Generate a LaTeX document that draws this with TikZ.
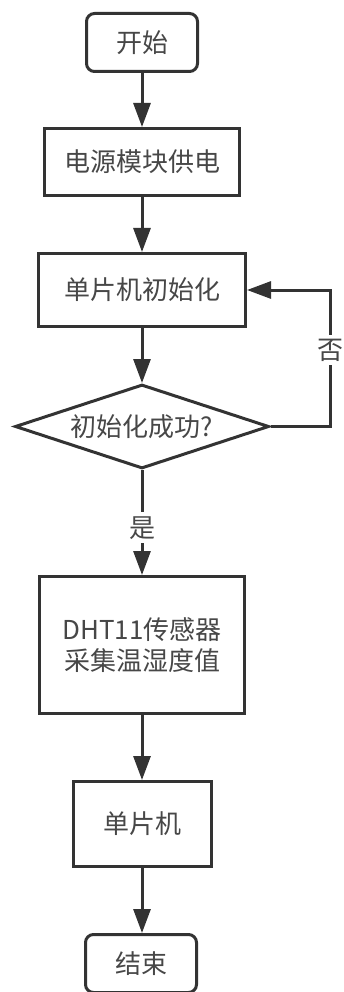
\documentclass[tikz,border=0pt]{standalone}
\usepackage{fontspec}
\setmainfont{Noto Sans CJK SC}
\usetikzlibrary{arrows.meta,shapes.geometric}
\definecolor{linec}{HTML}{333333}
\definecolor{textc}{HTML}{474747}
\begin{document}
\begin{tikzpicture}[x=1pt,y=-1pt,
  base/.style={draw=linec, line width=3pt, text=textc, font=\fontsize{26}{31}\selectfont, inner sep=0pt, align=center},
  proc/.style={base, rectangle},
  term/.style={base, rectangle, rounded corners=8pt},
  decis/.style={base, diamond, aspect=3},
  conn/.style={draw=linec, line width=3pt, -{Triangle[length=24pt,width=17pt]}},
  lbl/.style={fill=white, text=textc, font=\fontsize{26}{31}\selectfont, inner sep=4pt}]
\useasboundingbox (0,0) rectangle (343,992);
\node[term, minimum width=111pt, minimum height=58pt] (start) at (142,42.5) {开始};
\node[proc, minimum width=195pt, minimum height=67pt] (power) at (142,162) {电源模块供电};
\node[proc, minimum width=207pt, minimum height=73pt] (init) at (142,290) {单片机初始化};
\node[decis, minimum width=254pt, minimum height=84pt] (dec) at (142,426.5) {初始化成功?};
\node[proc, minimum width=205pt, minimum height=137pt] (dht) at (142,645) {DHT11传感器\\采集温湿度值};
\node[proc, minimum width=138pt, minimum height=85pt] (mcu) at (142,824) {单片机};
\node[term, minimum width=111pt, minimum height=58pt] (end) at (141,963.5) {结束};
\draw[conn] (start) -- (power);
\draw[conn] (power) -- (init);
\draw[conn] (init) -- (dec);
\draw[conn] (dec.south) -- (dht.north) node[lbl, pos=0.55] (yes) {是};
\draw[conn] (dht) -- (mcu);
\draw[conn] (mcu) -- (end.north -| mcu.south);
\draw[conn] (dec.east) -- ++(60,0) |- (init.east);
\node[lbl] (no) at (330,350) {否};
\end{tikzpicture}
\end{document}
